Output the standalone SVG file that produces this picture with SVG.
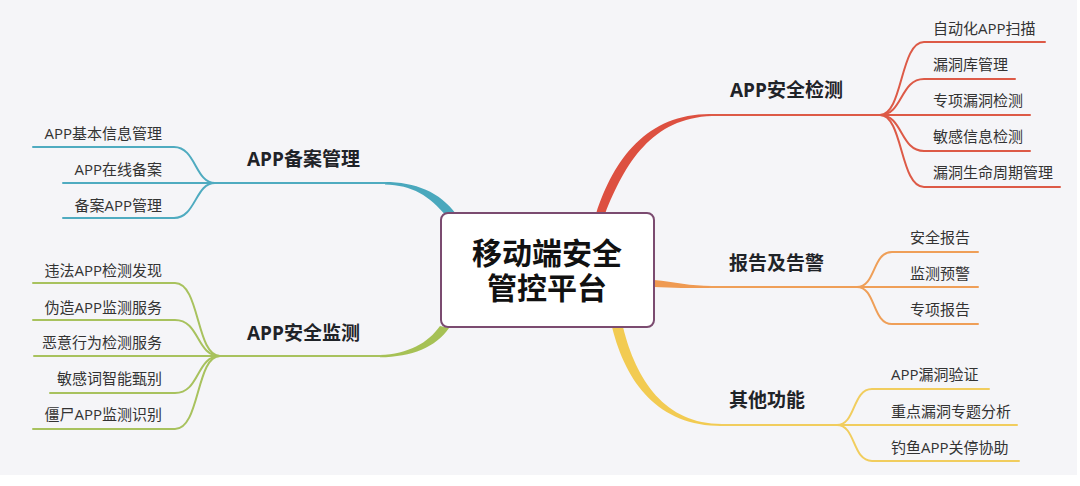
<svg xmlns="http://www.w3.org/2000/svg" width="1080" height="486" viewBox="0 0 1080 486">
<style>
.c{fill:none;stroke-width:2;stroke-linecap:round}
.r{stroke:#dd5a47}.o{stroke:#ef9f58}.y{stroke:#f1cd5e}.b{stroke:#4fabc0}.g{stroke:#a8c25e}
.t{font-family:"Open Sans","Noto Sans CJK SC",sans-serif;font-size:15px;fill:#333}
.h{font-family:"Open Sans","Noto Sans CJK SC",sans-serif;font-size:19px;font-weight:bold;fill:#1f2328}
.m{font-family:"Noto Sans CJK SC",sans-serif;font-size:30px;font-weight:bold;fill:#111;text-anchor:middle}
.e{text-anchor:end}
</style>
<rect x="0" y="0" width="1080" height="486" fill="#ffffff"/>
<rect x="0" y="0" width="1077" height="475" fill="#f5f5f8"/>
<g id="connectors">
<path d="M596,214 C614,158 648,113 712,114 L712,116 C652,118 625,163 605,214 Z" fill="#dd5040"/>
<line class="c r" x1="710" y1="115" x2="880" y2="115"/>
<path d="M654,280 C675,282 690,286 712,286 L712,288 C690,288 672,288 654,287 Z" fill="#ef9a52"/>
<line class="c o" x1="710" y1="287" x2="857" y2="287"/>
<path d="M612,327 C626,383 658,426 722,426 L722,424 C665,424 636,380 623,327 Z" fill="#f2cb52"/>
<line class="c y" x1="720" y1="425" x2="837" y2="425"/>
<path d="M456,214 C440,192 415,182 385,182 L385,184.5 C412,185 430,196 446,216 Z" fill="#4aa8bd"/>
<line class="c b" x1="215" y1="183" x2="386" y2="183"/>
<path d="M449,328 C436,347 412,357 380,357.3 L380,355 C408,354 428,343 440,326 Z" fill="#a6c155"/>
<line class="c g" x1="220" y1="356" x2="381" y2="356"/>
<path class="c r" d="M880,115 C903,115 900,42 924,42 L1045,42"/>
<path class="c r" d="M880,115 C903,115 900,79 924,79 L1015,79"/>
<path class="c r" d="M880,115 L1030,115"/>
<path class="c r" d="M880,115 C903,115 900,151 924,151 L1030,151"/>
<path class="c r" d="M880,115 C903,115 900,187 924,187 L1060,187"/>
<path class="c o" d="M857,287 C876,287 872,252 892,252 L978,252"/>
<path class="c o" d="M857,287 L978,287"/>
<path class="c o" d="M857,287 C876,287 872,324 892,324 L978,324"/>
<path class="c y" d="M837,425 C856,425 852,389 872,389 L989,389"/>
<path class="c y" d="M837,425 L1017,425"/>
<path class="c y" d="M837,425 C856,425 852,461 872,461 L1019,461"/>
<path class="c b" d="M215,183 C195,183 196,147 174,147 L33,147"/>
<path class="c b" d="M215,183 L63,183"/>
<path class="c b" d="M215,183 C195,183 196,218 174,218 L63,218"/>
<path class="c g" d="M220,356 C196,356 200,283 175,283 L33,283"/>
<path class="c g" d="M220,356 C196,356 200,320 175,320 L33,320"/>
<path class="c g" d="M220,356 L34,356"/>
<path class="c g" d="M220,356 C196,356 200,393 175,393 L50,393"/>
<path class="c g" d="M220,356 C196,356 200,429 175,429 L33,429"/>
</g>
<g id="center">
<rect x="441" y="213" width="213" height="114" rx="7" fill="#ffffff" stroke="#7b4b70" stroke-width="2"/>
<text class="m"><tspan x="547" y="264">移动端安全</tspan><tspan x="547" y="299">管控平台</tspan></text>
</g>
<g id="n-detect"><text class="h" x="730" y="97">APP安全检测</text></g>
<g id="n-report"><text class="h" x="729" y="270">报告及告警</text></g>
<g id="n-other"><text class="h" x="729" y="407">其他功能</text></g>
<g id="n-filing"><text class="h" x="247" y="166">APP备案管理</text></g>
<g id="n-monitor"><text class="h" x="247" y="340">APP安全监测</text></g>
<g id="n-d1"><text class="t" x="933" y="34">自动化APP扫描</text></g>
<g id="n-d2"><text class="t" x="933" y="70">漏洞库管理</text></g>
<g id="n-d3"><text class="t" x="933" y="106">专项漏洞检测</text></g>
<g id="n-d4"><text class="t" x="933" y="142">敏感信息检测</text></g>
<g id="n-d5"><text class="t" x="933" y="178">漏洞生命周期管理</text></g>
<g id="n-r1"><text class="t" x="910" y="243">安全报告</text></g>
<g id="n-r2"><text class="t" x="910" y="279">监测预警</text></g>
<g id="n-r3"><text class="t" x="910" y="315">专项报告</text></g>
<g id="n-o1"><text class="t" x="891" y="380">APP漏洞验证</text></g>
<g id="n-o2"><text class="t" x="891" y="417">重点漏洞专题分析</text></g>
<g id="n-o3"><text class="t" x="891" y="453">钓鱼APP关停协助</text></g>
<g id="n-f1"><text class="t e" x="162" y="139">APP基本信息管理</text></g>
<g id="n-f2"><text class="t e" x="162" y="175">APP在线备案</text></g>
<g id="n-f3"><text class="t e" x="162" y="211">备案APP管理</text></g>
<g id="n-m1"><text class="t e" x="162" y="276">违法APP检测发现</text></g>
<g id="n-m2"><text class="t e" x="162" y="313">伪造APP监测服务</text></g>
<g id="n-m3"><text class="t e" x="162" y="348">恶意行为检测服务</text></g>
<g id="n-m4"><text class="t e" x="162" y="384">敏感词智能甄别</text></g>
<g id="n-m5"><text class="t e" x="162" y="420">僵尸APP监测识别</text></g>
</svg>
